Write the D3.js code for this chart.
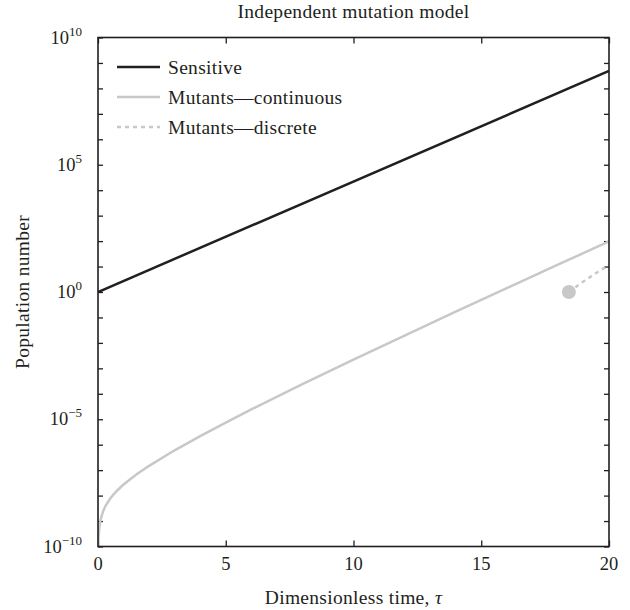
<!DOCTYPE html>
<html>
<head>
<meta charset="utf-8">
<script src="https://cdn.jsdelivr.net/npm/d3@7"></script>
<style>
  html, body { margin: 0; padding: 0; background: #fff; }
</style>
</head>
<body>
<svg id="chart" width="630" height="610"></svg>
<script>
// ---- Data ----
const title = "Independent mutation model";
const xLabel = "Dimensionless time, ";
const yLabel = "Population number";
const seriesNames = ["Sensitive", "Mutants\u2014continuous", "Mutants\u2014discrete"];

const sensitiveTau = [0, 20];
const sensitiveN = [1, 4.85e8];

const contTau = [0.01, 0.02, 0.05, 0.1, 0.2, 0.3, 0.5, 0.75, 1, 1.5, 2, 3, 4, 5, 6, 8, 10, 12, 14, 16, 18, 20];
const contN = [1.0e-10, 2.04e-10, 5.26e-10, 1.105e-9, 2.44e-9, 4.05e-9, 8.24e-9, 1.588e-8, 2.72e-8, 6.72e-8,
               1.478e-7, 6.03e-7, 2.18e-6, 7.42e-6, 2.42e-5, 2.38e-4, 2.20e-3, 1.95e-2, 0.168, 1.42, 11.8, 97.0];

const discTau = [18.43, 19, 19.5, 20];
const discN = [1, 2.6, 5.6, 11.5];

const xTicks = [0, 5, 10, 15, 20];
const yLabelExps = [10, 5, 0, -5, -10];

// ---- Layout ----
const svg = d3.select("#chart");
const FONT = '"Liberation Serif"';
const L = 98, R = 609, T = 37.5, B = 546.5;
const ink = "#231f20", gray = "#c8c8c8";
const FS = 18.5;      // tick numbers
const FW = 19.5;      // words
const LS = "0.3px";   // letter spacing for words

const x = d3.scaleLinear().domain([0, 20]).range([L, R]);
const y = d3.scaleLog().domain([1e-10, 1e10]).range([B, T]);

const defs = svg.append("defs");
defs.append("clipPath").attr("id", "clip")
  .append("rect").attr("x", L).attr("y", T).attr("width", R - L).attr("height", B - T);

// Ticks (inward on all four sides)
const decades = d3.range(-10, 11).map(e => Math.pow(10, e));
const styleTicks = g => { g.select(".domain").remove(); g.selectAll("line").attr("stroke", ink).attr("stroke-width", 1.3); };
const axG = svg.append("g");
axG.append("g").attr("transform", `translate(${L},0)`)
  .call(d3.axisRight(y).tickValues(decades).tickSize(5).tickFormat("")).call(styleTicks);
axG.append("g").attr("transform", `translate(${R},0)`)
  .call(d3.axisLeft(y).tickValues(decades).tickSize(5).tickFormat("")).call(styleTicks);
axG.append("g").attr("transform", `translate(0,${B})`)
  .call(d3.axisTop(x).tickValues(xTicks).tickSize(6).tickFormat("")).call(styleTicks);
axG.append("g").attr("transform", `translate(0,${T})`)
  .call(d3.axisBottom(x).tickValues(xTicks).tickSize(6).tickFormat("")).call(styleTicks);

// x tick labels
svg.append("g").selectAll("text").data(xTicks).join("text")
  .style("font-family", FONT).style("font-size", FS + "px")
  .attr("x", d => x(d)).attr("y", B + 23)
  .attr("text-anchor", "middle").attr("fill", ink)
  .text(d => d);

// y tick labels with superscripts
const yl = svg.append("g").selectAll("text").data(yLabelExps).join("text")
  .style("font-family", FONT).style("font-size", FS + "px")
  .attr("x", L - 16).attr("y", d => y(Math.pow(10, d)) + 6)
  .attr("text-anchor", "end").attr("fill", ink);
yl.append("tspan").text("10");
yl.append("tspan").attr("dy", -8).style("font-size", "13px")
  .text(d => d < 0 ? "\u2212" + Math.abs(d) : String(d));

// Lines
const line = (tau, n) => d3.line().x((d, i) => x(tau[i])).y((d, i) => y(n[i]))(n);
const plot = svg.append("g").attr("clip-path", "url(#clip)");
plot.append("path").attr("d", line(contTau, contN))
  .attr("fill", "none").attr("stroke", gray).attr("stroke-width", 2.5);
plot.append("path").attr("d", line(discTau, discN))
  .attr("fill", "none").attr("stroke", gray).attr("stroke-width", 2.5).attr("stroke-dasharray", "4,4");
plot.append("path").attr("d", line(sensitiveTau, sensitiveN))
  .attr("fill", "none").attr("stroke", ink).attr("stroke-width", 2.5);
plot.append("circle").attr("cx", x(discTau[0])).attr("cy", y(discN[0])).attr("r", 7).attr("fill", gray);

// Frame
svg.append("rect").attr("x", L).attr("y", T).attr("width", R - L).attr("height", B - T)
  .attr("fill", "none").attr("stroke", ink).attr("stroke-width", 1.6);

// Legend
const legStyles = [
  { stroke: ink, dash: null },
  { stroke: gray, dash: null },
  { stroke: gray, dash: "4,4" }
];
const leg = svg.append("g").selectAll("g").data(seriesNames).join("g")
  .attr("transform", (d, i) => `translate(0,${67 + i * 30})`);
leg.append("line").attr("x1", 117).attr("x2", 160).attr("y1", 0).attr("y2", 0)
  .attr("stroke", (d, i) => legStyles[i].stroke).attr("stroke-width", 2.5)
  .attr("stroke-dasharray", (d, i) => legStyles[i].dash);
leg.append("text").style("font-family", FONT).style("font-size", FW + "px").style("letter-spacing", LS)
  .attr("x", 168).attr("y", 6.5).attr("fill", ink).text(d => d);

// Title and axis labels
svg.append("text").style("font-family", FONT).style("font-size", FW + "px").style("letter-spacing", LS)
  .attr("x", (L + R) / 2).attr("y", 18)
  .attr("text-anchor", "middle").attr("fill", ink).text(title);
const xl = svg.append("text").style("font-family", FONT).style("font-size", FW + "px").style("letter-spacing", LS)
  .attr("x", (L + R) / 2).attr("y", 604)
  .attr("text-anchor", "middle").attr("fill", ink);
xl.append("tspan").text(xLabel);
xl.append("tspan").style("font-style", "italic").text("\u03c4");
svg.append("text").style("font-family", FONT).style("font-size", FW + "px").style("letter-spacing", LS)
  .attr("transform", `translate(29,${(T + B) / 2}) rotate(-90)`)
  .attr("text-anchor", "middle").attr("fill", ink).text(yLabel);
</script>
</body>
</html>
